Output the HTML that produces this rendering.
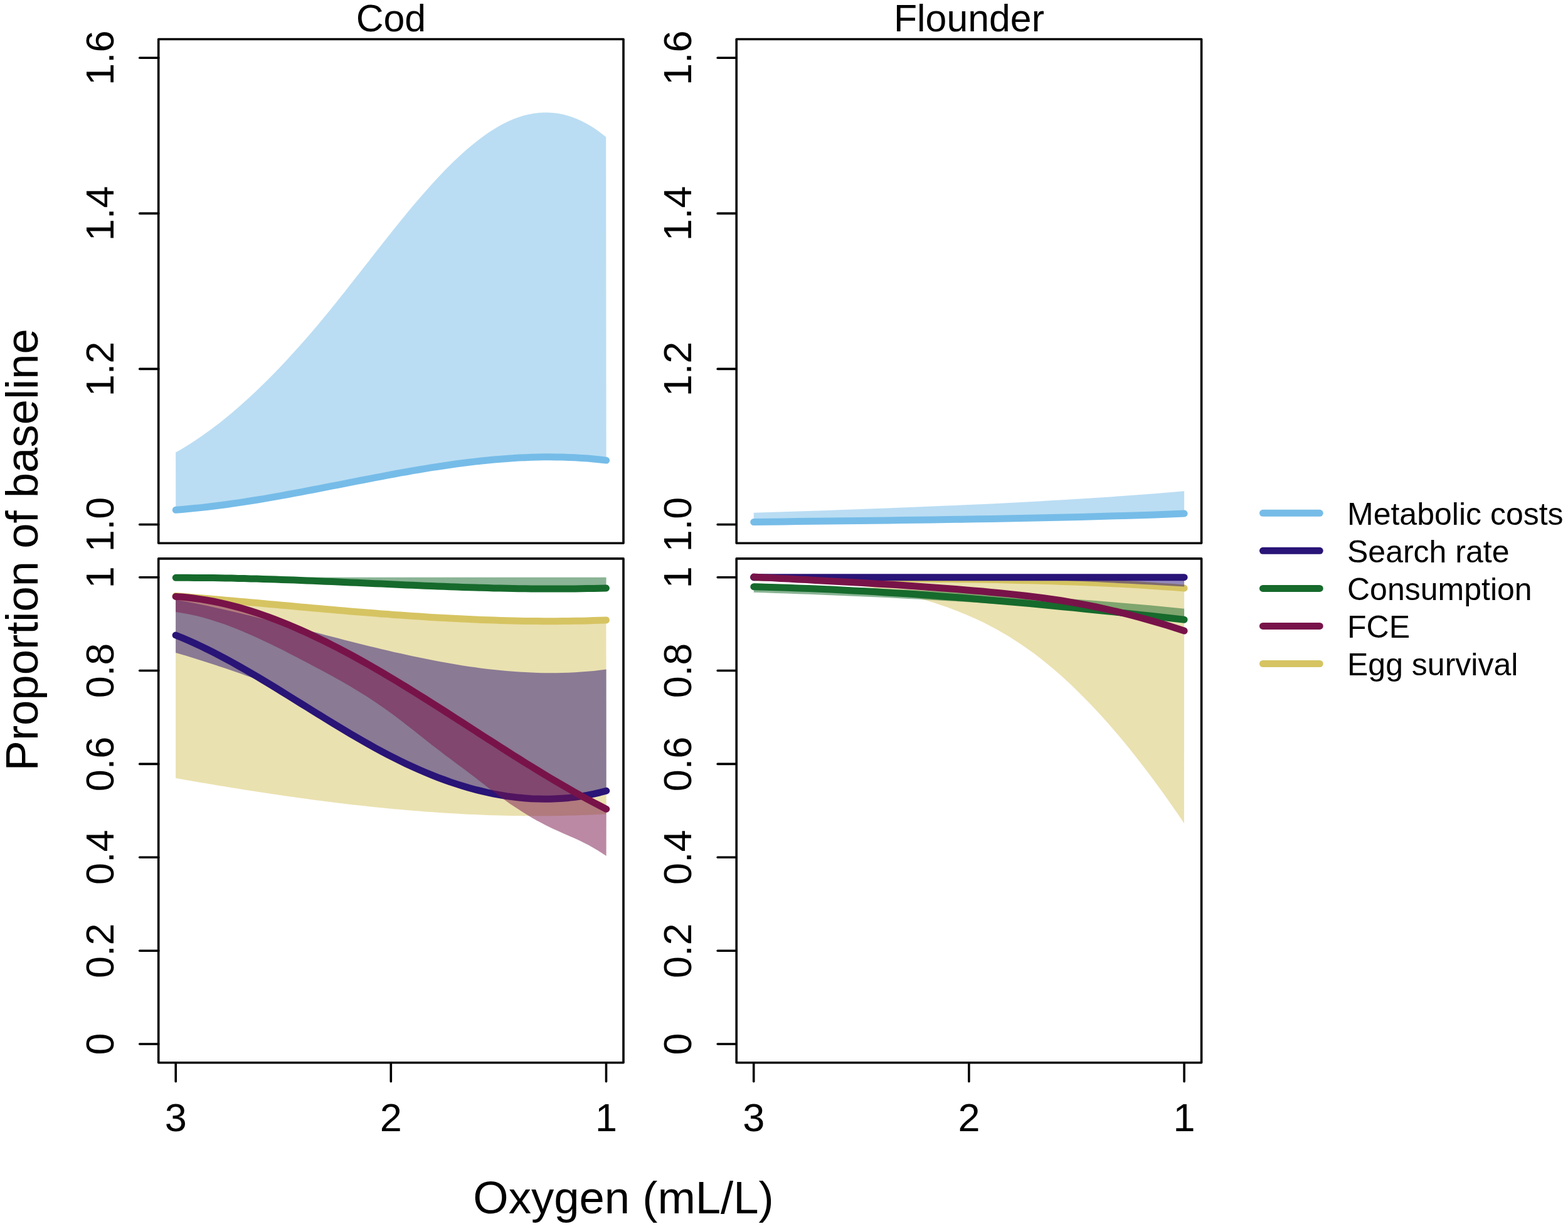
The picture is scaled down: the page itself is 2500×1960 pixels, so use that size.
<!DOCTYPE html>
<html><head><meta charset="utf-8"><title>Proportion of baseline vs Oxygen</title>
<style>html,body{margin:0;padding:0;background:#fff;}body{width:2500px;height:1960px;overflow:hidden;}svg{display:block;}</style>
</head><body>
<svg width="2500" height="1960" viewBox="0 0 2500 1960">
<rect x="0" y="0" width="2500" height="1960" fill="#ffffff"/>
<defs>
<clipPath id="c1"><rect x="252.7" y="62.5" width="741.3" height="803.8"/></clipPath>
<clipPath id="c2"><rect x="1174.2" y="62.5" width="741.4" height="803.8"/></clipPath>
<clipPath id="c3"><rect x="252.7" y="890.9" width="741.3" height="803.9"/></clipPath>
<clipPath id="c4"><rect x="1174.2" y="890.9" width="741.4" height="803.9"/></clipPath>
</defs>
<g clip-path="url(#c1)">
<path d="M280.1,721.6 L287.8,717.2 L295.5,712.6 L303.2,707.7 L310.9,702.7 L318.6,697.5 L326.4,692.1 L334.1,686.6 L341.8,680.8 L349.5,674.9 L357.2,668.7 L364.9,662.4 L372.6,656 L380.3,649.3 L388,642.5 L395.7,635.5 L403.4,628.4 L411.2,621.1 L418.9,613.6 L426.6,606 L434.3,598.2 L442,590.3 L449.7,582.2 L457.4,574 L465.1,565.6 L472.8,557.1 L480.5,548.4 L488.2,539.7 L496,530.7 L503.7,521.7 L511.4,512.5 L519.1,503.2 L526.8,493.8 L534.5,484.2 L542.2,474.6 L549.9,464.9 L557.6,455.1 L565.3,445.3 L573,435.4 L580.8,425.6 L588.5,415.7 L596.2,405.8 L603.9,396 L611.6,386.2 L619.3,376.4 L627,366.8 L634.7,357.2 L642.4,347.7 L650.1,338.3 L657.8,329 L665.5,319.9 L673.3,311 L681,302.2 L688.7,293.6 L696.4,285.2 L704.1,277 L711.8,269 L719.5,261.3 L727.2,253.9 L734.9,246.7 L742.6,239.8 L750.3,233.2 L758.1,226.9 L765.8,220.9 L773.5,215.3 L781.2,210 L788.9,205.2 L796.6,200.6 L804.3,196.5 L812,192.8 L819.7,189.5 L827.4,186.7 L835.1,184.3 L842.9,182.4 L850.6,180.9 L858.3,180 L866,179.4 L873.7,179.4 L881.4,179.9 L889.1,180.8 L896.8,182.3 L904.5,184.3 L912.2,186.7 L919.9,189.7 L927.7,193.2 L935.4,197.2 L943.1,201.8 L950.8,206.8 L958.5,212.5 L966.2,218.6 L966.6,734.1 L956.7,733 L946.7,732 L936.8,731.1 L926.8,730.4 L916.9,729.8 L906.9,729.4 L897,729.1 L887,728.9 L877.1,728.8 L867.1,728.8 L857.2,729 L847.2,729.3 L837.3,729.7 L827.3,730.1 L817.4,730.7 L807.4,731.4 L797.5,732.2 L787.5,733 L777.6,734 L767.6,735 L757.7,736.1 L747.7,737.3 L737.8,738.5 L727.9,739.8 L717.9,741.2 L708,742.7 L698,744.2 L688.1,745.7 L678.1,747.4 L668.2,749 L658.2,750.7 L648.3,752.5 L638.3,754.2 L628.4,756 L618.4,757.9 L608.5,759.8 L598.5,761.6 L588.6,763.6 L578.6,765.5 L568.7,767.4 L558.7,769.4 L548.8,771.3 L538.8,773.3 L528.9,775.2 L518.9,777.2 L509,779.1 L499.1,781 L489.1,782.9 L479.2,784.8 L469.2,786.7 L459.3,788.5 L449.3,790.4 L439.4,792.1 L429.4,793.9 L419.5,795.6 L409.5,797.2 L399.6,798.8 L389.6,800.4 L379.7,801.9 L369.7,803.3 L359.8,804.7 L349.8,806 L339.9,807.3 L329.9,808.5 L320,809.6 L310,810.6 L300.1,811.5 L290.1,812.4 L280.2,813.2 Z" fill="#76BCE8" fill-opacity="0.5" stroke="none"/>
<path d="M280.2,813.2 L290.1,812.4 L300.1,811.5 L310,810.6 L320,809.6 L329.9,808.5 L339.9,807.3 L349.8,806 L359.8,804.7 L369.7,803.3 L379.7,801.9 L389.6,800.4 L399.6,798.8 L409.5,797.2 L419.5,795.6 L429.4,793.9 L439.4,792.1 L449.3,790.4 L459.3,788.5 L469.2,786.7 L479.2,784.8 L489.1,782.9 L499.1,781 L509,779.1 L518.9,777.2 L528.9,775.2 L538.8,773.3 L548.8,771.3 L558.7,769.4 L568.7,767.4 L578.6,765.5 L588.6,763.6 L598.5,761.6 L608.5,759.8 L618.4,757.9 L628.4,756 L638.3,754.2 L648.3,752.5 L658.2,750.7 L668.2,749 L678.1,747.4 L688.1,745.7 L698,744.2 L708,742.7 L717.9,741.2 L727.9,739.8 L737.8,738.5 L747.7,737.3 L757.7,736.1 L767.6,735 L777.6,734 L787.5,733 L797.5,732.2 L807.4,731.4 L817.4,730.7 L827.3,730.1 L837.3,729.7 L847.2,729.3 L857.2,729 L867.1,728.8 L877.1,728.8 L887,728.9 L897,729.1 L906.9,729.4 L916.9,729.8 L926.8,730.4 L936.8,731.1 L946.7,732 L956.7,733 L966.6,734.1" fill="none" stroke="#76BCE8" stroke-width="11" stroke-linecap="round" stroke-linejoin="round"/>
</g>
<g clip-path="url(#c2)">
<path d="M1201.7,817.8 L1225.4,817 L1249,816.3 L1272.7,815.5 L1296.4,814.7 L1320,813.9 L1343.7,813 L1367.4,812.2 L1391.1,811.3 L1414.7,810.5 L1438.4,809.5 L1462.1,808.6 L1485.7,807.6 L1509.4,806.6 L1533.1,805.6 L1556.7,804.5 L1580.4,803.4 L1604.1,802.2 L1627.7,801 L1651.4,799.7 L1675.1,798.3 L1698.7,796.9 L1722.4,795.5 L1746.1,794 L1769.8,792.4 L1793.4,790.7 L1817.1,789 L1840.8,787.2 L1864.4,785.3 L1888.1,783.3 L1888.1,819.1 L1864.4,820 L1840.8,820.9 L1817.1,821.7 L1793.4,822.4 L1769.8,823.1 L1746.1,823.8 L1722.4,824.4 L1698.7,825 L1675.1,825.5 L1651.4,826.1 L1627.7,826.5 L1604.1,827 L1580.4,827.4 L1556.7,827.8 L1533.1,828.2 L1509.4,828.6 L1485.7,828.9 L1462.1,829.3 L1438.4,829.6 L1414.7,829.9 L1391.1,830.2 L1367.4,830.5 L1343.7,830.7 L1320,831 L1296.4,831.3 L1272.7,831.6 L1249,831.9 L1225.4,832.2 L1201.7,832.5 Z" fill="#76BCE8" fill-opacity="0.5" stroke="none"/>
<path d="M1201.7,832.5 L1225.4,832.2 L1249,831.9 L1272.7,831.6 L1296.4,831.3 L1320,831 L1343.7,830.7 L1367.4,830.5 L1391.1,830.2 L1414.7,829.9 L1438.4,829.6 L1462.1,829.3 L1485.7,828.9 L1509.4,828.6 L1533.1,828.2 L1556.7,827.8 L1580.4,827.4 L1604.1,827 L1627.7,826.5 L1651.4,826.1 L1675.1,825.5 L1698.7,825 L1722.4,824.4 L1746.1,823.8 L1769.8,823.1 L1793.4,822.4 L1817.1,821.7 L1840.8,820.9 L1864.4,820 L1888.1,819.1" fill="none" stroke="#76BCE8" stroke-width="11" stroke-linecap="round" stroke-linejoin="round"/>
</g>
<g clip-path="url(#c3)">
<path d="M280.1,950.5 L290,951.3 L300,952.1 L309.9,952.9 L319.9,953.7 L329.8,954.6 L339.8,955.4 L349.7,956.3 L359.7,957.2 L369.6,958 L379.6,958.9 L389.5,959.8 L399.5,960.7 L409.4,961.6 L419.3,962.5 L429.3,963.4 L439.2,964.3 L449.2,965.2 L459.1,966.1 L469.1,967 L479,967.9 L489,968.8 L498.9,969.7 L508.9,970.6 L518.8,971.5 L528.8,972.3 L538.7,973.2 L548.7,974 L558.6,974.9 L568.5,975.7 L578.5,976.5 L588.4,977.3 L598.4,978.1 L608.3,978.9 L618.3,979.6 L628.2,980.4 L638.2,981.1 L648.1,981.8 L658.1,982.5 L668,983.1 L678,983.8 L687.9,984.4 L697.8,985 L707.8,985.6 L717.7,986.1 L727.7,986.6 L737.6,987.1 L747.6,987.6 L757.5,988 L767.5,988.4 L777.4,988.8 L787.4,989.1 L797.3,989.5 L807.3,989.7 L817.2,990 L827.2,990.2 L837.1,990.4 L847,990.5 L857,990.6 L866.9,990.7 L876.9,990.7 L886.8,990.7 L896.8,990.6 L906.7,990.5 L916.7,990.3 L926.6,990.2 L936.6,989.9 L946.5,989.6 L956.5,989.3 L966.4,988.9 L966.7,1298.2 L956.7,1298.7 L946.8,1299.2 L936.8,1299.7 L926.9,1300 L916.9,1300.4 L907,1300.6 L897,1300.9 L887.1,1301.1 L877.1,1301.2 L867.2,1301.3 L857.2,1301.3 L847.3,1301.3 L837.3,1301.2 L827.4,1301.1 L817.4,1301 L807.5,1300.8 L797.5,1300.5 L787.6,1300.3 L777.6,1299.9 L767.7,1299.5 L757.7,1299.1 L747.8,1298.7 L737.8,1298.2 L727.9,1297.6 L717.9,1297.1 L708,1296.4 L698,1295.8 L688.1,1295.1 L678.1,1294.4 L668.2,1293.6 L658.2,1292.8 L648.3,1292 L638.3,1291.1 L628.4,1290.2 L618.4,1289.2 L608.5,1288.2 L598.5,1287.2 L588.6,1286.2 L578.6,1285.1 L568.7,1284 L558.7,1282.9 L548.8,1281.7 L538.8,1280.5 L528.9,1279.3 L518.9,1278 L509,1276.7 L499,1275.4 L489.1,1274.1 L479.1,1272.7 L469.2,1271.3 L459.2,1269.9 L449.3,1268.5 L439.3,1267 L429.4,1265.5 L419.4,1264 L409.5,1262.5 L399.5,1261 L389.6,1259.4 L379.6,1257.8 L369.7,1256.2 L359.7,1254.6 L349.8,1252.9 L339.8,1251.3 L329.9,1249.6 L319.9,1247.9 L310,1246.2 L300,1244.4 L290.1,1242.7 L280.1,1240.9 Z" fill="#D6C462" fill-opacity="0.5" stroke="none"/>
<path d="M280.1,950.5 L290,951.3 L300,952.1 L309.9,952.9 L319.9,953.7 L329.8,954.6 L339.8,955.4 L349.7,956.3 L359.7,957.2 L369.6,958 L379.6,958.9 L389.5,959.8 L399.5,960.7 L409.4,961.6 L419.3,962.5 L429.3,963.4 L439.2,964.3 L449.2,965.2 L459.1,966.1 L469.1,967 L479,967.9 L489,968.8 L498.9,969.7 L508.9,970.6 L518.8,971.5 L528.8,972.3 L538.7,973.2 L548.7,974 L558.6,974.9 L568.5,975.7 L578.5,976.5 L588.4,977.3 L598.4,978.1 L608.3,978.9 L618.3,979.6 L628.2,980.4 L638.2,981.1 L648.1,981.8 L658.1,982.5 L668,983.1 L678,983.8 L687.9,984.4 L697.8,985 L707.8,985.6 L717.7,986.1 L727.7,986.6 L737.6,987.1 L747.6,987.6 L757.5,988 L767.5,988.4 L777.4,988.8 L787.4,989.1 L797.3,989.5 L807.3,989.7 L817.2,990 L827.2,990.2 L837.1,990.4 L847,990.5 L857,990.6 L866.9,990.7 L876.9,990.7 L886.8,990.7 L896.8,990.6 L906.7,990.5 L916.7,990.3 L926.6,990.2 L936.6,989.9 L946.5,989.6 L956.5,989.3 L966.4,988.9" fill="none" stroke="#D6C462" stroke-width="11" stroke-linecap="round" stroke-linejoin="round"/>
<path d="M280.2,920.7 L966.6,920.7 L966.4,937.9 L956.5,938.2 L946.5,938.4 L936.6,938.6 L926.6,938.8 L916.7,938.9 L906.7,939 L896.8,939.1 L886.8,939.1 L876.9,939.1 L867,939.1 L857,939 L847.1,938.9 L837.1,938.8 L827.2,938.7 L817.2,938.5 L807.3,938.3 L797.3,938.1 L787.4,937.9 L777.4,937.6 L767.5,937.3 L757.6,937 L747.6,936.7 L737.7,936.4 L727.7,936.1 L717.8,935.7 L707.8,935.3 L697.9,935 L687.9,934.6 L678,934.2 L668.1,933.8 L658.1,933.3 L648.2,932.9 L638.2,932.5 L628.3,932 L618.3,931.6 L608.4,931.1 L598.4,930.7 L588.5,930.2 L578.5,929.8 L568.6,929.3 L558.7,928.9 L548.7,928.5 L538.8,928 L528.8,927.6 L518.9,927.2 L508.9,926.7 L499,926.3 L489,925.9 L479.1,925.5 L469.2,925.1 L459.2,924.8 L449.3,924.4 L439.3,924.1 L429.4,923.7 L419.4,923.4 L409.5,923.1 L399.5,922.9 L389.6,922.6 L379.6,922.4 L369.7,922.1 L359.8,922 L349.8,921.8 L339.9,921.6 L329.9,921.5 L320,921.4 L310,921.4 L300.1,921.3 L290.1,921.3 L280.2,921.3 Z" fill="#166A2C" fill-opacity="0.5" stroke="none"/>
<path d="M280.2,921.3 L290.1,921.3 L300.1,921.3 L310,921.4 L320,921.4 L329.9,921.5 L339.9,921.6 L349.8,921.8 L359.8,922 L369.7,922.1 L379.6,922.4 L389.6,922.6 L399.5,922.9 L409.5,923.1 L419.4,923.4 L429.4,923.7 L439.3,924.1 L449.3,924.4 L459.2,924.8 L469.2,925.1 L479.1,925.5 L489,925.9 L499,926.3 L508.9,926.7 L518.9,927.2 L528.8,927.6 L538.8,928 L548.7,928.5 L558.7,928.9 L568.6,929.3 L578.5,929.8 L588.5,930.2 L598.4,930.7 L608.4,931.1 L618.3,931.6 L628.3,932 L638.2,932.5 L648.2,932.9 L658.1,933.3 L668.1,933.8 L678,934.2 L687.9,934.6 L697.9,935 L707.8,935.3 L717.8,935.7 L727.7,936.1 L737.7,936.4 L747.6,936.7 L757.6,937 L767.5,937.3 L777.4,937.6 L787.4,937.9 L797.3,938.1 L807.3,938.3 L817.2,938.5 L827.2,938.7 L837.1,938.8 L847.1,938.9 L857,939 L867,939.1 L876.9,939.1 L886.8,939.1 L896.8,939.1 L906.7,939 L916.7,938.9 L926.6,938.8 L936.6,938.6 L946.5,938.4 L956.5,938.2 L966.4,937.9" fill="none" stroke="#166A2C" stroke-width="11" stroke-linecap="round" stroke-linejoin="round"/>
<path d="M280.1,956.4 L290,958.2 L300,960.1 L309.9,962.1 L319.9,964.1 L329.8,966.1 L339.8,968.3 L349.7,970.5 L359.7,972.7 L369.6,975 L379.6,977.3 L389.5,979.7 L399.5,982.1 L409.4,984.5 L419.4,987 L429.3,989.5 L439.3,992 L449.2,994.6 L459.2,997.2 L469.1,999.7 L479.1,1002.3 L489,1004.9 L499,1007.5 L508.9,1010.1 L518.9,1012.7 L528.8,1015.3 L538.8,1017.8 L548.7,1020.4 L558.7,1022.9 L568.6,1025.4 L578.6,1027.9 L588.5,1030.4 L598.5,1032.8 L608.4,1035.2 L618.4,1037.5 L628.3,1039.9 L638.3,1042.1 L648.2,1044.3 L658.2,1046.5 L668.1,1048.6 L678.1,1050.6 L688,1052.6 L698,1054.5 L707.9,1056.3 L717.9,1058.1 L727.8,1059.8 L737.8,1061.4 L747.7,1062.9 L757.7,1064.3 L767.6,1065.7 L777.6,1066.9 L787.5,1068 L797.5,1069.1 L807.4,1070 L817.4,1070.8 L827.3,1071.5 L837.3,1072.1 L847.2,1072.6 L857.2,1072.9 L867.1,1073.2 L877.1,1073.2 L887,1073.2 L897,1073 L906.9,1072.7 L916.9,1072.2 L926.8,1071.6 L936.8,1070.8 L946.7,1069.9 L956.7,1068.8 L966.6,1067.6 L966.7,1263.2 L958,1265.5 L949.3,1267.5 L940.6,1269.3 L931.9,1270.9 L923.2,1272.3 L914.6,1273.5 L905.9,1274.5 L897.2,1275.2 L888.5,1275.8 L879.8,1276.1 L871.1,1276.3 L862.4,1276.2 L853.7,1276 L845,1275.6 L836.3,1274.9 L827.6,1274.1 L819,1273.1 L810.3,1272 L801.6,1270.6 L792.9,1269.1 L784.2,1267.4 L775.5,1265.5 L766.8,1263.5 L758.1,1261.3 L749.4,1258.9 L740.7,1256.4 L732,1253.7 L723.3,1250.9 L714.7,1247.9 L706,1244.8 L697.3,1241.5 L688.6,1238.1 L679.9,1234.5 L671.2,1230.8 L662.5,1227 L653.8,1223.1 L645.1,1219 L636.4,1214.7 L627.7,1210.4 L619.1,1205.9 L610.4,1201.4 L601.7,1196.7 L593,1191.9 L584.3,1187 L575.6,1182.1 L566.9,1177 L558.2,1171.9 L549.5,1166.8 L540.8,1161.5 L532.1,1156.3 L523.5,1150.9 L514.8,1145.6 L506.1,1140.2 L497.4,1134.8 L488.7,1129.4 L480,1124 L471.3,1118.6 L462.6,1113.2 L453.9,1107.8 L445.2,1102.5 L436.5,1097.2 L427.8,1091.9 L419.2,1086.6 L410.5,1083.4 L401.8,1080.5 L393.1,1077.7 L384.4,1074.6 L375.7,1071.6 L367,1068.5 L358.3,1065.6 L349.6,1062.7 L340.9,1059.8 L332.2,1057 L323.6,1054.2 L314.9,1051.4 L306.2,1048.7 L297.5,1046.1 L288.8,1043.5 L280.1,1040.9 Z" fill="#291477" fill-opacity="0.5" stroke="none"/>
<path d="M280.1,1013 L290.1,1017 L300,1021.3 L310,1025.7 L319.9,1030.4 L329.9,1035.2 L339.8,1040.2 L349.8,1045.3 L359.7,1050.6 L369.7,1056 L379.6,1061.6 L389.6,1067.2 L399.5,1073 L409.5,1078.8 L419.4,1084.8 L429.4,1090.8 L439.3,1096.8 L449.3,1103 L459.2,1109.1 L469.2,1115.3 L479.1,1121.5 L489.1,1127.7 L499,1133.9 L509,1140 L518.9,1146.2 L528.9,1152.3 L538.8,1158.3 L548.8,1164.3 L558.7,1170.2 L568.7,1176.1 L578.6,1181.8 L588.6,1187.4 L598.5,1193 L608.5,1198.4 L618.4,1203.6 L628.4,1208.7 L638.3,1213.7 L648.3,1218.5 L658.2,1223.1 L668.2,1227.5 L678.1,1231.8 L688.1,1235.9 L698,1239.8 L708,1243.5 L717.9,1247.1 L727.9,1250.4 L737.8,1253.5 L747.8,1256.5 L757.7,1259.2 L767.7,1261.7 L777.6,1264 L787.6,1266.1 L797.5,1267.9 L807.5,1269.6 L817.4,1270.9 L827.4,1272.1 L837.3,1273 L847.3,1273.7 L857.2,1274.1 L867.2,1274.3 L877.1,1274.2 L887.1,1273.8 L897,1273.2 L907,1272.4 L916.9,1271.2 L926.9,1269.8 L936.8,1268.1 L946.8,1266.1 L956.7,1263.8 L966.7,1261.2" fill="none" stroke="#291477" stroke-width="11" stroke-linecap="round" stroke-linejoin="round"/>
<path d="M280.1,951.4 L290.1,952.1 L300,953 L310,954.2 L319.9,955.6 L329.9,957.2 L339.8,959 L349.8,961.1 L359.7,963.3 L369.7,965.8 L379.6,968.4 L389.6,971.2 L399.5,974.3 L409.5,977.5 L419.4,980.9 L429.4,984.4 L439.3,988.1 L449.3,992 L459.2,996 L469.2,1000.2 L479.1,1004.6 L489.1,1009 L499,1013.7 L509,1018.4 L518.9,1023.3 L528.9,1028.3 L538.8,1033.4 L548.8,1038.6 L558.7,1043.9 L568.7,1049.4 L578.6,1054.9 L588.6,1060.5 L598.5,1066.3 L608.5,1072.1 L618.4,1077.9 L628.4,1083.9 L638.3,1089.9 L648.3,1096 L658.2,1102.1 L668.2,1108.3 L678.1,1114.5 L688.1,1120.8 L698,1127.2 L708,1133.5 L717.9,1139.9 L727.9,1146.3 L737.8,1152.7 L747.8,1159.1 L757.7,1165.5 L767.7,1172 L777.6,1178.4 L787.6,1184.7 L797.5,1191.1 L807.5,1197.5 L817.4,1203.8 L827.4,1210 L837.3,1216.3 L847.3,1222.4 L857.2,1228.5 L867.2,1234.6 L877.1,1240.6 L887.1,1246.5 L897,1252.3 L907,1258 L916.9,1263.7 L926.9,1269.2 L936.8,1274.7 L946.8,1280 L956.7,1285.2 L966.7,1290.3 L966.6,1365.1 L959.7,1360.4 L952.7,1356 L945.8,1351.9 L938.9,1348 L931.9,1344.4 L925,1341 L918.1,1337.8 L911.1,1334.7 L904.2,1331.7 L897.3,1328.7 L890.3,1325.6 L883.4,1322.5 L876.5,1319.2 L869.5,1315.8 L862.6,1312.1 L855.7,1308.4 L848.7,1304.4 L841.8,1300.3 L834.8,1296 L827.9,1291.6 L821,1287 L814,1282.4 L807.1,1277.5 L800.2,1272.6 L793.2,1267.5 L786.3,1262.3 L779.4,1257 L772.4,1251.6 L765.5,1246.2 L758.6,1240.8 L751.6,1235.6 L744.7,1230.3 L737.8,1225.1 L730.8,1219.9 L723.9,1214.8 L717,1209.6 L710,1204.4 L703.1,1199.1 L696.2,1193.8 L689.2,1188.4 L682.3,1182.9 L675.4,1177.5 L668.4,1172 L661.5,1166.5 L654.6,1161.1 L647.6,1155.7 L640.7,1150.3 L633.8,1145 L626.8,1139.8 L619.9,1134.7 L612.9,1129.8 L606,1124.9 L599.1,1120.2 L592.1,1115.6 L585.2,1111.1 L578.3,1106.7 L571.3,1102.4 L564.4,1098.2 L557.5,1094.1 L550.5,1090.1 L543.6,1086.1 L536.7,1082.2 L529.7,1078.3 L522.8,1074.5 L515.9,1070.8 L508.9,1067 L502,1063.4 L495.1,1059.7 L488.1,1056.1 L481.2,1052.4 L474.3,1048.8 L467.3,1045.2 L460.4,1041.7 L453.5,1038.1 L446.5,1034.6 L439.6,1031.2 L432.7,1027.8 L425.7,1024.4 L418.8,1021.2 L411.9,1017.9 L404.9,1014.8 L398,1011.7 L391,1008.7 L384.1,1005.8 L377.2,1003 L370.2,1000.2 L363.3,997.6 L356.4,995.1 L349.4,992.7 L342.5,990.4 L335.6,988.2 L328.6,986.2 L321.7,984.3 L314.8,982.5 L307.8,980.9 L300.9,979.5 L294,978.2 L287,977 L280.1,976 Z" fill="#781349" fill-opacity="0.5" stroke="none"/>
<path d="M280.1,951.4 L290.1,952.1 L300,953 L310,954.2 L319.9,955.6 L329.9,957.2 L339.8,959 L349.8,961.1 L359.7,963.3 L369.7,965.8 L379.6,968.4 L389.6,971.2 L399.5,974.3 L409.5,977.5 L419.4,980.9 L429.4,984.4 L439.3,988.1 L449.3,992 L459.2,996 L469.2,1000.2 L479.1,1004.6 L489.1,1009 L499,1013.7 L509,1018.4 L518.9,1023.3 L528.9,1028.3 L538.8,1033.4 L548.8,1038.6 L558.7,1043.9 L568.7,1049.4 L578.6,1054.9 L588.6,1060.5 L598.5,1066.3 L608.5,1072.1 L618.4,1077.9 L628.4,1083.9 L638.3,1089.9 L648.3,1096 L658.2,1102.1 L668.2,1108.3 L678.1,1114.5 L688.1,1120.8 L698,1127.2 L708,1133.5 L717.9,1139.9 L727.9,1146.3 L737.8,1152.7 L747.8,1159.1 L757.7,1165.5 L767.7,1172 L777.6,1178.4 L787.6,1184.7 L797.5,1191.1 L807.5,1197.5 L817.4,1203.8 L827.4,1210 L837.3,1216.3 L847.3,1222.4 L857.2,1228.5 L867.2,1234.6 L877.1,1240.6 L887.1,1246.5 L897,1252.3 L907,1258 L916.9,1263.7 L926.9,1269.2 L936.8,1274.7 L946.8,1280 L956.7,1285.2 L966.7,1290.3" fill="none" stroke="#781349" stroke-width="11" stroke-linecap="round" stroke-linejoin="round"/>
</g>
<g clip-path="url(#c4)">
<path d="M1201.7,921 L1219.3,921.2 L1236.9,921.4 L1254.5,921.6 L1272.1,921.8 L1289.7,921.9 L1307.3,922 L1324.9,922.2 L1342.5,922.3 L1360.1,922.4 L1377.7,922.5 L1395.3,922.6 L1412.9,922.7 L1430.5,922.8 L1448.1,922.9 L1465.7,923.1 L1483.3,923.2 L1500.9,923.4 L1518.5,923.6 L1536.1,923.8 L1553.7,924.1 L1571.3,924.3 L1588.9,924.6 L1606.5,925 L1624.1,925.4 L1641.7,925.8 L1659.3,926.3 L1676.9,926.8 L1694.5,927.4 L1712.1,928 L1729.7,928.7 L1747.3,929.4 L1764.9,930.3 L1782.5,931.1 L1800.1,932.1 L1817.7,933.1 L1835.3,934.2 L1852.9,935.4 L1870.5,936.6 L1888.1,938 L1887.9,1312.9 L1878,1298.3 L1868,1283.9 L1858.1,1269.8 L1848.1,1256 L1838.2,1242.4 L1828.2,1229.2 L1818.3,1216.2 L1808.3,1203.5 L1798.4,1191.1 L1788.5,1179 L1778.5,1167.2 L1768.6,1155.7 L1758.6,1144.6 L1748.7,1133.7 L1738.7,1123.1 L1728.8,1112.9 L1718.8,1102.9 L1708.9,1093.3 L1698.9,1084 L1689,1075.1 L1679.1,1066.5 L1669.1,1058.2 L1659.2,1050.2 L1649.2,1042.6 L1639.3,1035.4 L1629.3,1028.5 L1619.4,1021.9 L1609.4,1015.6 L1599.5,1009.7 L1589.6,1004 L1579.6,998.7 L1569.7,993.6 L1559.7,988.8 L1549.8,984.3 L1539.8,979.9 L1529.9,975.9 L1519.9,972 L1510,968.3 L1500,964.9 L1490.1,961.6 L1480.2,958.4 L1470.2,955.5 L1460.3,952.7 L1450.3,950.1 L1440.4,947.6 L1430.4,945.3 L1420.5,943.1 L1410.5,941.1 L1400.6,939.2 L1390.7,937.4 L1380.7,935.8 L1370.8,934.2 L1360.8,932.8 L1350.9,931.5 L1340.9,930.3 L1331,929.2 L1321,928.2 L1311.1,927.3 L1301.1,926.4 L1291.2,925.7 L1281.3,925 L1271.3,924.4 L1261.4,923.9 L1251.4,923.4 L1241.5,923 L1231.5,922.6 L1221.6,922.2 L1211.6,922 L1201.7,921.7 Z" fill="#D6C462" fill-opacity="0.5" stroke="none"/>
<path d="M1201.7,921 L1219.3,921.2 L1236.9,921.4 L1254.5,921.6 L1272.1,921.8 L1289.7,921.9 L1307.3,922 L1324.9,922.2 L1342.5,922.3 L1360.1,922.4 L1377.7,922.5 L1395.3,922.6 L1412.9,922.7 L1430.5,922.8 L1448.1,922.9 L1465.7,923.1 L1483.3,923.2 L1500.9,923.4 L1518.5,923.6 L1536.1,923.8 L1553.7,924.1 L1571.3,924.3 L1588.9,924.6 L1606.5,925 L1624.1,925.4 L1641.7,925.8 L1659.3,926.3 L1676.9,926.8 L1694.5,927.4 L1712.1,928 L1729.7,928.7 L1747.3,929.4 L1764.9,930.3 L1782.5,931.1 L1800.1,932.1 L1817.7,933.1 L1835.3,934.2 L1852.9,935.4 L1870.5,936.6 L1888.1,938" fill="none" stroke="#D6C462" stroke-width="11" stroke-linecap="round" stroke-linejoin="round"/>
<path d="M1201.8,930.3 L1219.4,931.1 L1237,931.8 L1254.6,932.5 L1272.2,933.3 L1289.8,934 L1307.4,934.7 L1325,935.4 L1342.6,936.1 L1360.2,936.9 L1377.8,937.6 L1395.4,938.3 L1413,939.1 L1430.6,939.9 L1448.2,940.6 L1465.8,941.4 L1483.4,942.2 L1501,943.1 L1518.6,943.9 L1536.2,944.8 L1553.7,945.7 L1571.3,946.7 L1588.9,947.6 L1606.5,948.6 L1624.1,949.7 L1641.7,950.7 L1659.3,951.8 L1676.9,953 L1694.5,954.2 L1712.1,955.4 L1729.7,956.7 L1747.3,958.1 L1764.9,959.5 L1782.5,960.9 L1800.1,962.4 L1817.7,963.9 L1835.3,965.6 L1852.9,967.2 L1870.5,969 L1888.1,970.8 L1888.1,987.4 L1870.5,985.7 L1852.9,984 L1835.3,982.3 L1817.7,980.7 L1800.1,979.1 L1782.5,977.6 L1764.9,976.1 L1747.3,974.6 L1729.7,973.2 L1712.1,971.8 L1694.5,970.4 L1676.9,969.1 L1659.3,967.8 L1641.7,966.6 L1624.1,965.4 L1606.5,964.2 L1588.9,963 L1571.3,961.9 L1553.7,960.8 L1536.2,959.7 L1518.6,958.7 L1501,957.7 L1483.4,956.7 L1465.8,955.8 L1448.2,954.9 L1430.6,954 L1413,953.1 L1395.4,952.3 L1377.8,951.5 L1360.2,950.7 L1342.6,950 L1325,949.2 L1307.4,948.5 L1289.8,947.8 L1272.2,947.2 L1254.6,946.5 L1237,945.9 L1219.4,945.3 L1201.8,944.7 Z" fill="#166A2C" fill-opacity="0.5" stroke="none"/>
<path d="M1201.8,935.8 L1219.4,936.2 L1237,936.7 L1254.6,937.3 L1272.2,937.9 L1289.8,938.6 L1307.4,939.3 L1325,940.1 L1342.6,941 L1360.2,941.9 L1377.8,942.8 L1395.4,943.8 L1413,944.9 L1430.6,946 L1448.2,947.1 L1465.8,948.3 L1483.4,949.6 L1501,950.9 L1518.6,952.2 L1536.2,953.6 L1553.7,955 L1571.3,956.4 L1588.9,957.9 L1606.5,959.5 L1624.1,961 L1641.7,962.6 L1659.3,964.3 L1676.9,966 L1694.5,967.7 L1712.1,969.4 L1729.7,971.2 L1747.3,973 L1764.9,974.8 L1782.5,976.6 L1800.1,978.5 L1817.7,980.4 L1835.3,982.3 L1852.9,984.2 L1870.5,986.2 L1888.1,988.2" fill="none" stroke="#166A2C" stroke-width="11" stroke-linecap="round" stroke-linejoin="round"/>
<path d="M1201.7,920.7 L1888.1,920.7 L1888.1,935.5 L1870.5,934.5 L1852.9,933.6 L1835.3,932.6 L1817.7,931.7 L1800.1,930.8 L1782.5,929.9 L1764.9,929 L1747.3,928.1 L1729.7,927.3 L1712.1,926.5 L1694.5,925.7 L1676.9,925 L1659.3,924.2 L1641.7,923.5 L1624.1,922.9 L1606.5,922.2 L1588.9,921.7 L1571.3,921.1 L1553.7,920.6 L1536.1,920.1 L1518.5,919.7 L1500.9,919.3 L1483.3,918.9 L1465.7,918.7 L1448.1,918.4 L1430.5,918.2 L1412.9,918.1 L1395.3,918 L1377.7,917.9 L1360.1,918 L1342.5,918 L1324.9,918.2 L1307.3,918.4 L1289.7,918.7 L1272.1,919 L1254.5,919.4 L1236.9,919.9 L1219.3,920.4 L1201.7,921 Z" fill="#291477" fill-opacity="0.5" stroke="none"/>
<path d="M1201.7,920.7 L1888.1,920.7" fill="none" stroke="#291477" stroke-width="11" stroke-linecap="round" stroke-linejoin="round"/>
<path d="M1201.8,920.1 L1215.8,920.9 L1229.8,921.6 L1243.8,922.4 L1257.8,923.1 L1271.8,923.9 L1285.8,924.6 L1299.8,925.4 L1313.8,926.2 L1327.9,926.9 L1341.9,927.7 L1355.9,928.5 L1369.9,929.3 L1383.9,930.1 L1397.9,930.9 L1411.9,931.8 L1425.9,932.6 L1439.9,933.5 L1453.9,934.5 L1467.9,935.4 L1481.9,936.4 L1495.9,937.4 L1509.9,938.5 L1523.9,939.6 L1537.9,940.7 L1552,941.9 L1566,943.1 L1580,944.4 L1594,945.7 L1608,947.1 L1622,948.6 L1636,950.2 L1650,951.9 L1664,953.7 L1678,955.7 L1692,957.8 L1706,960.1 L1720,962.6 L1734,965.2 L1748,968 L1762,971.1 L1776.1,974.3 L1790.1,977.7 L1804.1,981.2 L1818.1,985 L1832.1,988.9 L1846.1,992.9 L1860.1,997.1 L1874.1,1001.5 L1888.1,1006" fill="none" stroke="#781349" stroke-width="11" stroke-linecap="round" stroke-linejoin="round"/>
</g>
<rect x="252.7" y="62.5" width="741.3" height="803.8" fill="none" stroke="#000" stroke-width="3.6" stroke-linejoin="round"/>
<rect x="252.7" y="890.9" width="741.3" height="803.9" fill="none" stroke="#000" stroke-width="3.6" stroke-linejoin="round"/>
<rect x="1174.2" y="62.5" width="741.4" height="803.8" fill="none" stroke="#000" stroke-width="3.6" stroke-linejoin="round"/>
<rect x="1174.2" y="890.9" width="741.4" height="803.9" fill="none" stroke="#000" stroke-width="3.6" stroke-linejoin="round"/>
<line x1="222.7" y1="836.5" x2="252.7" y2="836.5" stroke="#000" stroke-width="3.6" stroke-linecap="round"/>
<text transform="translate(180.6,836.5) rotate(-90)" text-anchor="middle" font-family="Liberation Sans, Arial, Helvetica, sans-serif" font-size="63" fill="#000">1.0</text>
<line x1="222.7" y1="588.4" x2="252.7" y2="588.4" stroke="#000" stroke-width="3.6" stroke-linecap="round"/>
<text transform="translate(180.6,588.4) rotate(-90)" text-anchor="middle" font-family="Liberation Sans, Arial, Helvetica, sans-serif" font-size="63" fill="#000">1.2</text>
<line x1="222.7" y1="340.4" x2="252.7" y2="340.4" stroke="#000" stroke-width="3.6" stroke-linecap="round"/>
<text transform="translate(180.6,340.4) rotate(-90)" text-anchor="middle" font-family="Liberation Sans, Arial, Helvetica, sans-serif" font-size="63" fill="#000">1.4</text>
<line x1="222.7" y1="92.3" x2="252.7" y2="92.3" stroke="#000" stroke-width="3.6" stroke-linecap="round"/>
<text transform="translate(180.6,92.3) rotate(-90)" text-anchor="middle" font-family="Liberation Sans, Arial, Helvetica, sans-serif" font-size="63" fill="#000">1.6</text>
<line x1="222.7" y1="1665" x2="252.7" y2="1665" stroke="#000" stroke-width="3.6" stroke-linecap="round"/>
<text transform="translate(180.6,1665) rotate(-90)" text-anchor="middle" font-family="Liberation Sans, Arial, Helvetica, sans-serif" font-size="63" fill="#000">0</text>
<line x1="222.7" y1="1516.2" x2="252.7" y2="1516.2" stroke="#000" stroke-width="3.6" stroke-linecap="round"/>
<text transform="translate(180.6,1516.2) rotate(-90)" text-anchor="middle" font-family="Liberation Sans, Arial, Helvetica, sans-serif" font-size="63" fill="#000">0.2</text>
<line x1="222.7" y1="1367.3" x2="252.7" y2="1367.3" stroke="#000" stroke-width="3.6" stroke-linecap="round"/>
<text transform="translate(180.6,1367.3) rotate(-90)" text-anchor="middle" font-family="Liberation Sans, Arial, Helvetica, sans-serif" font-size="63" fill="#000">0.4</text>
<line x1="222.7" y1="1218.4" x2="252.7" y2="1218.4" stroke="#000" stroke-width="3.6" stroke-linecap="round"/>
<text transform="translate(180.6,1218.4) rotate(-90)" text-anchor="middle" font-family="Liberation Sans, Arial, Helvetica, sans-serif" font-size="63" fill="#000">0.6</text>
<line x1="222.7" y1="1069.5" x2="252.7" y2="1069.5" stroke="#000" stroke-width="3.6" stroke-linecap="round"/>
<text transform="translate(180.6,1069.5) rotate(-90)" text-anchor="middle" font-family="Liberation Sans, Arial, Helvetica, sans-serif" font-size="63" fill="#000">0.8</text>
<line x1="222.7" y1="920.7" x2="252.7" y2="920.7" stroke="#000" stroke-width="3.6" stroke-linecap="round"/>
<text transform="translate(180.6,920.7) rotate(-90)" text-anchor="middle" font-family="Liberation Sans, Arial, Helvetica, sans-serif" font-size="63" fill="#000">1</text>
<line x1="1144.2" y1="836.5" x2="1174.2" y2="836.5" stroke="#000" stroke-width="3.6" stroke-linecap="round"/>
<text transform="translate(1102.1,836.5) rotate(-90)" text-anchor="middle" font-family="Liberation Sans, Arial, Helvetica, sans-serif" font-size="63" fill="#000">1.0</text>
<line x1="1144.2" y1="588.4" x2="1174.2" y2="588.4" stroke="#000" stroke-width="3.6" stroke-linecap="round"/>
<text transform="translate(1102.1,588.4) rotate(-90)" text-anchor="middle" font-family="Liberation Sans, Arial, Helvetica, sans-serif" font-size="63" fill="#000">1.2</text>
<line x1="1144.2" y1="340.4" x2="1174.2" y2="340.4" stroke="#000" stroke-width="3.6" stroke-linecap="round"/>
<text transform="translate(1102.1,340.4) rotate(-90)" text-anchor="middle" font-family="Liberation Sans, Arial, Helvetica, sans-serif" font-size="63" fill="#000">1.4</text>
<line x1="1144.2" y1="92.3" x2="1174.2" y2="92.3" stroke="#000" stroke-width="3.6" stroke-linecap="round"/>
<text transform="translate(1102.1,92.3) rotate(-90)" text-anchor="middle" font-family="Liberation Sans, Arial, Helvetica, sans-serif" font-size="63" fill="#000">1.6</text>
<line x1="1144.2" y1="1665" x2="1174.2" y2="1665" stroke="#000" stroke-width="3.6" stroke-linecap="round"/>
<text transform="translate(1102.1,1665) rotate(-90)" text-anchor="middle" font-family="Liberation Sans, Arial, Helvetica, sans-serif" font-size="63" fill="#000">0</text>
<line x1="1144.2" y1="1516.2" x2="1174.2" y2="1516.2" stroke="#000" stroke-width="3.6" stroke-linecap="round"/>
<text transform="translate(1102.1,1516.2) rotate(-90)" text-anchor="middle" font-family="Liberation Sans, Arial, Helvetica, sans-serif" font-size="63" fill="#000">0.2</text>
<line x1="1144.2" y1="1367.3" x2="1174.2" y2="1367.3" stroke="#000" stroke-width="3.6" stroke-linecap="round"/>
<text transform="translate(1102.1,1367.3) rotate(-90)" text-anchor="middle" font-family="Liberation Sans, Arial, Helvetica, sans-serif" font-size="63" fill="#000">0.4</text>
<line x1="1144.2" y1="1218.4" x2="1174.2" y2="1218.4" stroke="#000" stroke-width="3.6" stroke-linecap="round"/>
<text transform="translate(1102.1,1218.4) rotate(-90)" text-anchor="middle" font-family="Liberation Sans, Arial, Helvetica, sans-serif" font-size="63" fill="#000">0.6</text>
<line x1="1144.2" y1="1069.5" x2="1174.2" y2="1069.5" stroke="#000" stroke-width="3.6" stroke-linecap="round"/>
<text transform="translate(1102.1,1069.5) rotate(-90)" text-anchor="middle" font-family="Liberation Sans, Arial, Helvetica, sans-serif" font-size="63" fill="#000">0.8</text>
<line x1="1144.2" y1="920.7" x2="1174.2" y2="920.7" stroke="#000" stroke-width="3.6" stroke-linecap="round"/>
<text transform="translate(1102.1,920.7) rotate(-90)" text-anchor="middle" font-family="Liberation Sans, Arial, Helvetica, sans-serif" font-size="63" fill="#000">1</text>
<line x1="280.2" y1="1694.8" x2="280.2" y2="1724.8" stroke="#000" stroke-width="3.6" stroke-linecap="round"/>
<text x="280.2" y="1803.7" text-anchor="middle" font-family="Liberation Sans, Arial, Helvetica, sans-serif" font-size="63" fill="#000">3</text>
<line x1="623.3" y1="1694.8" x2="623.3" y2="1724.8" stroke="#000" stroke-width="3.6" stroke-linecap="round"/>
<text x="623.3" y="1803.7" text-anchor="middle" font-family="Liberation Sans, Arial, Helvetica, sans-serif" font-size="63" fill="#000">2</text>
<line x1="966.5" y1="1694.8" x2="966.5" y2="1724.8" stroke="#000" stroke-width="3.6" stroke-linecap="round"/>
<text x="966.5" y="1803.7" text-anchor="middle" font-family="Liberation Sans, Arial, Helvetica, sans-serif" font-size="63" fill="#000">1</text>
<line x1="1201.7" y1="1694.8" x2="1201.7" y2="1724.8" stroke="#000" stroke-width="3.6" stroke-linecap="round"/>
<text x="1201.7" y="1803.7" text-anchor="middle" font-family="Liberation Sans, Arial, Helvetica, sans-serif" font-size="63" fill="#000">3</text>
<line x1="1544.9" y1="1694.8" x2="1544.9" y2="1724.8" stroke="#000" stroke-width="3.6" stroke-linecap="round"/>
<text x="1544.9" y="1803.7" text-anchor="middle" font-family="Liberation Sans, Arial, Helvetica, sans-serif" font-size="63" fill="#000">2</text>
<line x1="1888.1" y1="1694.8" x2="1888.1" y2="1724.8" stroke="#000" stroke-width="3.6" stroke-linecap="round"/>
<text x="1888.1" y="1803.7" text-anchor="middle" font-family="Liberation Sans, Arial, Helvetica, sans-serif" font-size="63" fill="#000">1</text>
<text x="623.4" y="50.4" text-anchor="middle" font-family="Liberation Sans, Arial, Helvetica, sans-serif" font-size="60.8" fill="#000">Cod</text>
<text x="1544.9" y="50.4" text-anchor="middle" font-family="Liberation Sans, Arial, Helvetica, sans-serif" font-size="60.8" fill="#000">Flounder</text>
<text transform="translate(60.1,876.8) rotate(-90)" text-anchor="middle" font-family="Liberation Sans, Arial, Helvetica, sans-serif" font-size="72.5" fill="#000">Proportion of baseline</text>
<text x="994" y="1935.4" text-anchor="middle" font-family="Liberation Sans, Arial, Helvetica, sans-serif" font-size="72.5" fill="#000">Oxygen (mL/L)</text>
<line x1="2013.5" y1="818.3" x2="2104.2" y2="818.3" stroke="#76BCE8" stroke-width="11" stroke-linecap="round"/>
<text x="2148" y="836.5" font-family="Liberation Sans, Arial, Helvetica, sans-serif" font-size="50" fill="#000">Metabolic costs</text>
<line x1="2013.5" y1="878.3" x2="2104.2" y2="878.3" stroke="#291477" stroke-width="11" stroke-linecap="round"/>
<text x="2148" y="896.5" font-family="Liberation Sans, Arial, Helvetica, sans-serif" font-size="50" fill="#000">Search rate</text>
<line x1="2013.5" y1="938.4" x2="2104.2" y2="938.4" stroke="#166A2C" stroke-width="11" stroke-linecap="round"/>
<text x="2148" y="956.6" font-family="Liberation Sans, Arial, Helvetica, sans-serif" font-size="50" fill="#000">Consumption</text>
<line x1="2013.5" y1="998.4" x2="2104.2" y2="998.4" stroke="#781349" stroke-width="11" stroke-linecap="round"/>
<text x="2148" y="1016.6" font-family="Liberation Sans, Arial, Helvetica, sans-serif" font-size="50" fill="#000">FCE</text>
<line x1="2013.5" y1="1058.5" x2="2104.2" y2="1058.5" stroke="#D6C462" stroke-width="11" stroke-linecap="round"/>
<text x="2148" y="1076.7" font-family="Liberation Sans, Arial, Helvetica, sans-serif" font-size="50" fill="#000">Egg survival</text>
</svg>
</body></html>
